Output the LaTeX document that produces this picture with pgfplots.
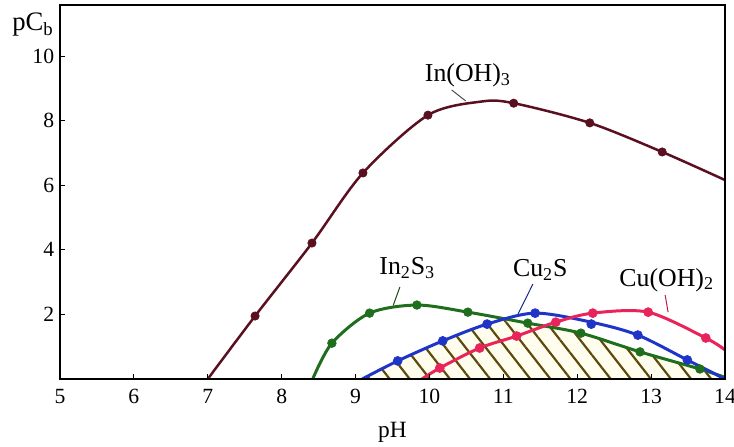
\documentclass[border=0pt]{standalone}
\usepackage{fontspec}
\setmainfont{Liberation Serif}
\usepackage{pgfplots}
\pgfplotsset{compat=1.18}
\usepackage{pgfplotstable}
\usetikzlibrary{patterns.meta,calc}

\definecolor{inoh}{HTML}{5A1020}
\definecolor{ins}{HTML}{1E6E1E}
\definecolor{cus}{HTML}{1F35C8}
\definecolor{cuoh}{HTML}{E8245A}
\definecolor{hatch}{HTML}{5C4A0A}
\definecolor{hatchbg}{HTML}{FFFDEE}

% region under both Cu2S and In2S3 curves
\pgfplotstableread{
x y
9.09 0
9.57 0.56
10.18 1.18
10.78 1.70
11.05 1.85
11.33 1.73
12.05 1.42
12.85 0.84
13.66 0.31
14.00 0.05
}\hatchdata

\begin{document}
\begin{tikzpicture}
\begin{axis}[
    width=399pt, height=224.4pt, scale only axis,
    xmin=5, xmax=14, ymin=0, ymax=11.58,
    xtick={5,...,14}, ytick={2,4,...,10},
    xticklabels={5,6,7,8,9,10,11,12,13,14},
    yticklabels={2,4,6,8,10},
    tick align=inside, xtick pos=bottom, ytick pos=left,
    major tick length=3pt,
    every tick/.style={black, line width=0.5pt},
    axis line style={line width=1.1pt},
    axis on top,
    tick label style={font=\fontsize{13}{15}\selectfont\rmfamily},
    xticklabel style={yshift=-2.5pt},
    xlabel={pH},
    xlabel style={font=\fontsize{14}{16}\selectfont, at={(axis description cs:0.5,-0.142)}, anchor=center},
]
    % hatched area
    \addplot[fill=hatchbg, draw=none, smooth] table {\hatchdata} \closedcycle;
    \addplot[pattern={Lines[angle=-52, distance=9.5pt, line width=1.3pt]}, pattern color=hatch, draw=none, smooth] table {\hatchdata} \closedcycle;

    % In(OH)3
    \addplot[inoh, line width=1.5pt, smooth] coordinates {
        (7,0) (7.64,1.95) (8.41,4.21) (9.10,6.38) (9.98,8.17) (10.7,8.59)
        (11.14,8.54) (12.17,7.93) (13.15,7.03) (14,6.16)
    };
    \addplot[only marks, mark=*, mark size=2.5pt, mark options={fill=inoh, draw=inoh}] coordinates {
        (7.64,1.95) (8.41,4.21) (9.10,6.38) (9.98,8.17) (11.14,8.54) (12.17,7.93) (13.15,7.03)
    };

    % In2S3
    \addplot[ins, line width=1.8pt, smooth] coordinates {
        (8.42,0) (8.68,1.11) (9.19,2.04) (9.83,2.29) (10.52,2.07) (11.33,1.73)
        (12.05,1.42) (12.85,0.84) (13.66,0.31) (14,0.05)
    };
    \addplot[only marks, mark=*, mark size=2.6pt, mark options={fill=ins, draw=ins}] coordinates {
        (8.68,1.11) (9.19,2.04) (9.83,2.29) (10.52,2.07) (11.33,1.73)
        (12.05,1.42) (12.85,0.84) (13.66,0.31)
    };

    % Cu2S
    \addplot[cus, line width=1.8pt, smooth] coordinates {
        (9.09,0) (9.57,0.56) (10.18,1.18) (10.78,1.70) (11.43,2.04) (12.19,1.76)
        (12.82,1.36) (13.49,0.59) (14,0)
    };
    \addplot[only marks, mark=*, mark size=2.7pt, mark options={fill=cus, draw=cus}] coordinates {
        (9.57,0.56) (10.18,1.18) (10.78,1.70) (11.43,2.04) (12.19,1.70)
        (12.82,1.36) (13.49,0.59)
    };

    % Cu(OH)2
    \addplot[cuoh, line width=1.8pt, smooth] coordinates {
        (9.90,0) (10.14,0.34) (10.68,0.96) (11.18,1.33) (11.71,1.76) (12.21,2.04)
        (12.96,2.07) (13.74,1.27) (14,0.90)
    };
    \addplot[only marks, mark=*, mark size=2.7pt, mark options={fill=cuoh, draw=cuoh}] coordinates {
        (10.14,0.34) (10.68,0.96) (11.18,1.33) (11.71,1.76) (12.21,2.04)
        (12.96,2.07) (13.74,1.27)
    };

    % curve labels
    \node[font=\fontsize{15.5}{18}\selectfont] at (axis cs:10.52,9.41) {In(OH)\textsubscript{3}};
    \draw[black!70, line width=0.6pt] (axis cs:10.30,8.95) -- (axis cs:10.49,8.61);
    \node[font=\fontsize{15.5}{18}\selectfont] at (axis cs:9.70,3.44) {In\textsubscript{2}S\textsubscript{3}};
    \draw[ins!70!black, line width=0.6pt] (axis cs:9.60,2.85) -- (axis cs:9.51,2.28);
    \node[font=\fontsize{15.5}{18}\selectfont] at (axis cs:11.50,3.37) {Cu\textsubscript{2}S};
    \draw[cus!70!black, line width=0.6pt] (axis cs:11.40,2.94) -- (axis cs:11.20,2.02);
    \node[font=\fontsize{15.5}{18}\selectfont] at (axis cs:13.21,3.07) {Cu(OH)\textsubscript{2}};
    \draw[cuoh!80!black, line width=0.6pt] (axis cs:13.19,2.60) -- (axis cs:13.23,2.07);
\end{axis}
\node[font=\fontsize{16}{18}\selectfont] at ($(current axis.north west)+(-16.2pt,-12pt)$) {pC\textsubscript{b}};
\pgfresetboundingbox
\path[use as bounding box] ($(current axis.south west)+(-36pt,-40.2pt)$) rectangle ($(current axis.north east)+(5.4pt,3pt)$);
\end{tikzpicture}
\end{document}
